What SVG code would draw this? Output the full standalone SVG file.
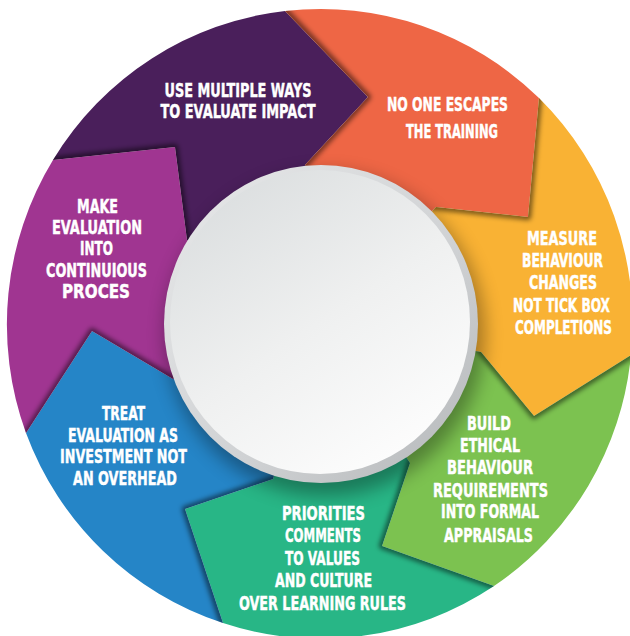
<svg xmlns="http://www.w3.org/2000/svg" width="630" height="636" viewBox="0 0 630 636">
<defs>
<style>
.lbl{font-family:"Liberation Sans Narrow","DejaVu Sans Condensed","Liberation Sans",sans-serif;font-weight:bold;font-size:20px;fill:#fff;stroke:#fff;stroke-width:0.45px;text-anchor:middle}
.edge{fill:none;stroke:#000;stroke-opacity:.55;stroke-width:6;stroke-linejoin:round;filter:url(#blur)}
</style>
<filter id="blur" x="-20%" y="-20%" width="140%" height="140%"><feGaussianBlur stdDeviation="2.5"/></filter>
<filter id="soft" x="-30%" y="-30%" width="160%" height="160%"><feGaussianBlur stdDeviation="9"/></filter>
<linearGradient id="rim" x1="0" y1="0" x2="1" y2="1"><stop offset="0" stop-color="#e8e9ea"/><stop offset=".6" stop-color="#cfd1d3"/><stop offset="1" stop-color="#b3b6b8"/></linearGradient>
<linearGradient id="face" x1="0.2" y1="0.05" x2="0.8" y2="0.95"><stop offset="0" stop-color="#dcdfe0"/><stop offset=".5" stop-color="#eff0f0"/><stop offset="1" stop-color="#fdfdfd"/></linearGradient>
<path id="p-purple" d="M321 324 L187 240 L175 147 L53 160 A313 315 0 0 1 285 11 L368 97 L305 165 Z"/>
<path id="p-orange" d="M321 324 L305 165 L368 97 L285 11 A313 315 0 0 1 539 98 L528 217 L436 207 Z"/>
<path id="p-yellow" d="M321 324 L436 207 L528 217 L539 98 A313 315 0 0 1 631 355 L534 416 L481 352 Z"/>
<path id="p-green" d="M321 324 L481 352 L534 416 L631 355 A313 315 0 0 1 494 586 L382 546 L410 463 Z"/>
<path id="p-teal" d="M321 324 L410 463 L382 546 L494 586 A313 315 0 0 1 223 623 L185 509 L273 479 Z"/>
<path id="p-blue" d="M321 324 L273 479 L185 509 L223 623 A313 315 0 0 1 26 433 L92 331 L173 379 Z"/>
<path id="p-magenta" d="M321 324 L173 379 L92 331 L26 433 A313 315 0 0 1 53 160 L175 147 L187 240 Z"/>
<clipPath id="c-purple"><use href="#p-purple"/></clipPath>
<clipPath id="c-orange"><use href="#p-orange"/></clipPath>
<clipPath id="c-yellow"><use href="#p-yellow"/></clipPath>
<clipPath id="c-green"><use href="#p-green"/></clipPath>
<clipPath id="c-teal"><use href="#p-teal"/></clipPath>
<clipPath id="c-blue"><use href="#p-blue"/></clipPath>
<clipPath id="c-magenta"><use href="#p-magenta"/></clipPath>
</defs>
<rect width="630" height="636" fill="#fff"/>

<g id="segments">
<use href="#p-purple" fill="#4a1f5b"/>
<use href="#p-orange" fill="#ee6645"/>
<use href="#p-yellow" fill="#f9b234"/>
<use href="#p-green" fill="#7cc250"/>
<use href="#p-teal" fill="#28b686"/>
<use href="#p-blue" fill="#2585c7"/>
<use href="#p-magenta" fill="#a03591"/>
</g>

<g id="connectors">
<path class="edge" clip-path="url(#c-orange)" d="M277 2 L368 97 L305 165 L300 180"/>
<path class="edge" clip-path="url(#c-yellow)" d="M540 86 L528 217 L436 207 L420 205"/>
<path class="edge" clip-path="url(#c-green)" d="M641 349 L534 416 L481 352 L470 339"/>
<path class="edge" clip-path="url(#c-teal)" d="M505 590 L382 546 L410 463 L414 450"/>
<path class="edge" clip-path="url(#c-blue)" d="M226 634 L185 509 L273 479 L285 475"/>
<path class="edge" clip-path="url(#c-magenta)" d="M20 443 L92 331 L173 379 L185 386"/>
<path class="edge" clip-path="url(#c-purple)" d="M40 161 L175 147 L187 240 L189 255"/>
</g>

<g id="center">
<ellipse cx="325" cy="334" rx="160" ry="162" fill="#000" opacity=".33" filter="url(#soft)"/>
<ellipse cx="321" cy="324" rx="157" ry="159" fill="url(#rim)"/>
<ellipse cx="320" cy="322" rx="150" ry="152" fill="url(#face)"/>
</g>

<g id="node-purple">
<text class="lbl" x="238" y="97" textLength="147" lengthAdjust="spacingAndGlyphs">USE MULTIPLE WAYS</text>
<text class="lbl" x="238" y="118" textLength="155" lengthAdjust="spacingAndGlyphs">TO EVALUATE IMPACT</text>
</g>
<g id="node-orange">
<text class="lbl" x="447.5" y="111" textLength="121" lengthAdjust="spacingAndGlyphs">NO ONE ESCAPES</text>
<text class="lbl" x="452" y="138" textLength="92" lengthAdjust="spacingAndGlyphs">THE TRAINING</text>
</g>
<g id="node-yellow">
<text class="lbl" x="562" y="245" textLength="70" lengthAdjust="spacingAndGlyphs">MEASURE</text>
<text class="lbl" x="562.5" y="267" textLength="81" lengthAdjust="spacingAndGlyphs">BEHAVIOUR</text>
<text class="lbl" x="563" y="289" textLength="68" lengthAdjust="spacingAndGlyphs">CHANGES</text>
<text class="lbl" x="561.5" y="312" textLength="97" lengthAdjust="spacingAndGlyphs">NOT TICK BOX</text>
<text class="lbl" x="563.5" y="334" textLength="97" lengthAdjust="spacingAndGlyphs">COMPLETIONS</text>
</g>
<g id="node-green">
<text class="lbl" x="489" y="430" textLength="44" lengthAdjust="spacingAndGlyphs">BUILD</text>
<text class="lbl" x="490" y="452" textLength="60" lengthAdjust="spacingAndGlyphs">ETHICAL</text>
<text class="lbl" x="490" y="474" textLength="86" lengthAdjust="spacingAndGlyphs">BEHAVIOUR</text>
<text class="lbl" x="490.5" y="497" textLength="115" lengthAdjust="spacingAndGlyphs">REQUIREMENTS</text>
<text class="lbl" x="490" y="518" textLength="98" lengthAdjust="spacingAndGlyphs">INTO FORMAL</text>
<text class="lbl" x="488.5" y="542" textLength="89" lengthAdjust="spacingAndGlyphs">APPRAISALS</text>
</g>
<g id="node-teal">
<text class="lbl" x="323.5" y="520" textLength="83" lengthAdjust="spacingAndGlyphs">PRIORITIES</text>
<text class="lbl" x="323" y="542" textLength="76" lengthAdjust="spacingAndGlyphs">COMMENTS</text>
<text class="lbl" x="322.5" y="565" textLength="75" lengthAdjust="spacingAndGlyphs">TO VALUES</text>
<text class="lbl" x="323.5" y="587" textLength="97" lengthAdjust="spacingAndGlyphs">AND CULTURE</text>
<text class="lbl" x="322.5" y="610" textLength="167" lengthAdjust="spacingAndGlyphs">OVER LEARNING RULES</text>
</g>
<g id="node-blue">
<text class="lbl" x="123.5" y="420" textLength="43" lengthAdjust="spacingAndGlyphs">TREAT</text>
<text class="lbl" x="123" y="442" textLength="110" lengthAdjust="spacingAndGlyphs">EVALUATION AS</text>
<text class="lbl" x="123.5" y="463" textLength="127" lengthAdjust="spacingAndGlyphs">INVESTMENT NOT</text>
<text class="lbl" x="125" y="485" textLength="104" lengthAdjust="spacingAndGlyphs">AN OVERHEAD</text>
</g>
<g id="node-magenta">
<text class="lbl" x="97.5" y="213" textLength="41" lengthAdjust="spacingAndGlyphs">MAKE</text>
<text class="lbl" x="97" y="234" textLength="90" lengthAdjust="spacingAndGlyphs">EVALUATION</text>
<text class="lbl" x="96.5" y="255" textLength="33" lengthAdjust="spacingAndGlyphs">INTO</text>
<text class="lbl" x="96.5" y="277" textLength="101" lengthAdjust="spacingAndGlyphs">CONTINUIOUS</text>
<text class="lbl" x="96" y="298" textLength="68" lengthAdjust="spacingAndGlyphs">PROCES</text>
</g>
</svg>
